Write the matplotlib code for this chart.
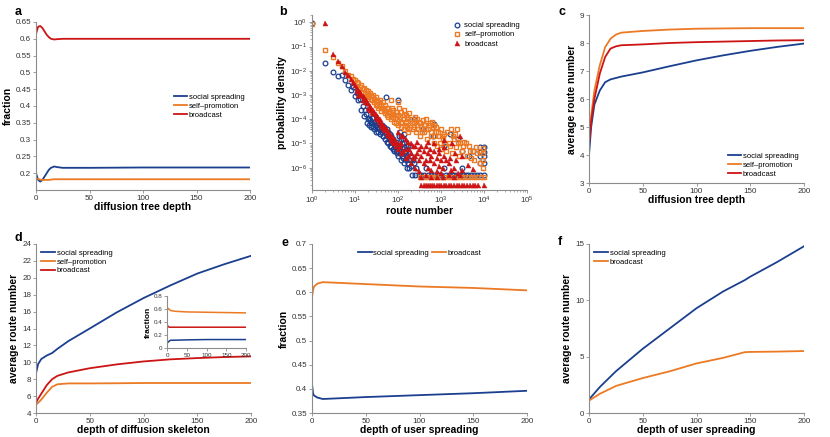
import matplotlib
matplotlib.use("Agg")
import matplotlib.pyplot as plt
import numpy as np

plt.rcParams['font.family'] = ['Liberation Sans', 'DejaVu Sans']
plt.rcParams['mathtext.default'] = 'regular'

BLUE = '#1b3f8f'
ORANGE = '#ec7a24'
RED = '#cc1414'
GREY = '#8c8c8c'

# ---- panel a: fraction vs diffusion tree depth ----
a_x = [0, 2, 4, 6, 8, 10, 12, 14, 17, 20, 25, 30, 50, 100, 150, 200]
a_social = [0.200, 0.180, 0.175, 0.180, 0.190, 0.200, 0.210, 0.216, 0.220, 0.218, 0.216, 0.216, 0.216, 0.217, 0.217, 0.217]
a_self = [0.185, 0.183, 0.181, 0.180, 0.180, 0.180, 0.180, 0.181, 0.182, 0.182, 0.182, 0.182, 0.182, 0.182, 0.182, 0.182]
a_broad = [0.615, 0.636, 0.638, 0.632, 0.622, 0.612, 0.605, 0.600, 0.598, 0.599, 0.600, 0.600, 0.600, 0.600, 0.600, 0.600]

# ---- panel b: route number distribution ----
b_social_x = [1, 2, 3, 4, 5, 6, 7, 8, 9, 10, 11, 12, 13, 14, 15, 16, 17, 18, 19, 20,
              21, 22, 23, 24, 25, 26, 27, 28, 30, 30, 32, 34, 35, 36, 38, 40, 42, 44, 45, 48,
              50, 52, 52, 55, 55, 58, 60, 60, 63, 65, 65, 68, 70, 70, 75, 75, 80, 80, 85, 90,
              90, 95, 100, 100, 100, 105, 110, 110, 115, 120, 120, 125, 130, 130, 140, 140, 150, 150, 160, 160,
              170, 180, 180, 200, 200, 210, 220, 250, 300, 350, 400, 450, 500, 600, 700, 700, 800, 900, 1000, 1150,
              1300, 1500, 1600, 1800, 2000, 2300, 2500, 2700, 3000, 3300, 3800, 4300, 5000, 5500, 6000, 7000,
              8000, 8000, 8000, 8000, 10000, 10000, 10000, 10000,
              21, 23, 29, 31, 37, 43, 46, 105, 115, 125, 135, 145, 155, 165, 190, 230, 260, 110, 140, 170,
              230, 380, 650, 1200, 3000, 4500, 8000, 10000]
b_social_y = [0.9, 0.02, 0.0085, 0.0058, 0.0068, 0.004, 0.0025, 0.0016, 0.0022, 0.0009, 0.0012, 0.0006, 0.0007, 0.00023, 0.00035, 0.00013, 0.00025, 0.00016, 7e-5, 1e-4,
              6e-5, 9e-5, 5e-5, 7e-5, 1.1e-4, 5e-5, 8e-5, 4e-5, 6e-5, 3e-5, 5e-5, 7e-5, 3e-5, 5e-5, 2.5e-5, 4e-5, 6e-5, 2e-5, 3.5e-5, 5e-5,
              1.5e-5, 8.5e-4, 2.5e-5, 4e-5, 1.2e-5, 2e-5, 3e-5, 1e-5, 1.5e-5, 2.5e-5, 8e-6, 1.2e-5, 2e-5, 7e-6, 1.5e-5, 6e-6, 1e-5, 5e-6, 8e-6, 1.2e-5,
              5e-6, 4e-6, 6e-4, 8e-6, 3e-6, 6e-6, 3e-5, 4e-6, 2e-6, 2e-5, 5e-6, 3e-6, 1.5e-5, 2.5e-6, 1e-5, 1.5e-6, 8e-6, 2e-6, 6e-6, 1e-6,
              1.5e-6, 4e-6, 1e-6, 3e-6, 1.2e-6, 5e-7, 2e-6, 5e-7, 5e-7, 5e-7, 5e-7, 1e-6, 5e-7, 5e-7, 6.3e-5, 5e-7, 5e-7, 5e-7, 5e-7, 1e-6,
              5e-7, 5e-7, 2.4e-5, 5e-7, 5e-7, 5e-7, 1.5e-5, 5e-7, 1e-6, 5e-7, 5e-7, 5e-7, 5e-7, 5e-6, 5e-7, 5e-7,
              7e-6, 3e-6, 1.5e-6, 5e-7, 7e-6, 3e-6, 1.5e-6, 5e-7,
              1.1e-4, 8e-5, 6e-5, 7e-5, 4e-5, 3e-5, 2e-5, 2e-5, 1.5e-5, 1e-5, 7e-6, 5e-6, 4e-6, 3e-6, 2e-6, 1.5e-6, 1e-6, 8e-6, 2.5e-5, 8e-6,
              1e-4, 4e-5, 2e-5, 8e-6, 5e-6, 3e-6, 4.5e-6, 4.5e-6]

b_self_x = [1, 2, 3, 4, 5, 6, 7, 8, 9, 10, 11, 12, 12, 14, 15, 16, 18, 18, 20, 20,
            22, 24, 25, 26, 28, 30, 30, 33, 35, 35, 38, 40, 40, 45, 45, 50, 50, 55, 55, 60,
            60, 65, 70, 70, 75, 80, 80, 90, 90, 100, 100, 100, 110, 120, 120, 130, 140, 140, 150, 160,
            170, 180, 190, 200, 220, 230, 250, 260, 280, 300, 320, 350, 380, 400, 420, 450, 480, 500, 550, 600,
            650, 700, 700, 750, 800, 900, 1000, 1000, 1100, 1200, 1300, 1500, 1700, 1800, 2000, 2200, 2400, 2600, 2800, 3000,
            3500, 4000, 4500, 5000, 5500, 6000, 7000, 8000, 9300, 9300,
            13, 17, 19, 21, 23, 27, 32, 37, 42, 48, 52, 58, 62, 68, 72, 78, 85, 95, 105, 115,
            125, 135, 145, 155, 165, 175, 185, 210, 240, 270, 290, 330, 360, 400, 440, 520, 580, 630, 680, 760,
            850, 950, 1050, 1250, 1400, 1600, 1900, 2100, 2500, 3200, 3800, 4800, 6500, 8000, 9300, 9300,
            320, 400, 500, 600, 700, 800, 1000, 1200, 1500, 1800, 2200, 2600, 3000, 3500, 4200, 5000, 6000, 7000, 8500, 10000]
b_self_y = [0.85, 0.075, 0.038, 0.02, 0.015, 0.01, 0.007, 0.006, 0.0045, 0.004, 0.0035, 0.003, 0.0018, 0.0025, 0.0018, 0.002, 0.0016, 0.0009, 0.0014, 0.0008,
            0.0012, 0.0009, 0.0006, 0.001, 0.0007, 0.0008, 0.0004, 0.0006, 0.0005, 0.0003, 0.0006, 0.0004, 0.00022, 0.0005, 0.0003, 0.0004, 0.00018, 0.0003, 0.00015, 0.0003,
            0.00012, 0.0002, 0.0006, 1e-4, 0.00025, 0.00015, 8e-5, 0.0002, 7e-5, 0.0005, 0.00015, 6e-5, 0.00012, 0.0002, 5e-5, 1e-4, 0.00015, 4e-5, 8e-5, 0.00012,
            3e-5, 0.00018, 6e-5, 1e-4, 4e-5, 8e-5, 0.00012, 3e-5, 6e-5, 8e-5, 2e-5, 5e-5, 9e-5, 3e-5, 6e-5, 1e-4, 1.5e-5, 4e-5, 7e-5, 2e-5,
            5e-5, 6e-5, 1e-5, 3e-5, 8e-6, 2e-5, 4e-5, 6e-6, 1.5e-5, 2.5e-5, 5e-6, 1e-5, 4e-5, 4e-6, 1.5e-5, 7e-6, 4e-5, 3e-6, 1e-5, 5e-6,
            1.2e-5, 3e-6, 8e-6, 2.5e-6, 5e-6, 2e-6, 4e-6, 1.5e-6, 6.5e-6, 2e-6,
            0.0022, 0.0012, 0.0011, 0.0009, 0.0007, 0.0005, 0.0004, 0.00035, 0.0003, 0.00025, 0.00022, 0.0002, 0.00018, 0.00015, 0.0003, 0.00012, 0.00011, 1e-4, 0.0003, 8e-5,
            7e-5, 0.00025, 6e-5, 0.00015, 5e-5, 1e-4, 4e-5, 7e-5, 5e-5, 1e-4, 4e-5, 7e-5, 3e-5, 6e-5, 4e-5, 6e-5, 3e-5, 8e-5, 2e-5, 5e-5,
            3e-5, 1e-5, 2e-5, 1e-5, 3e-5, 8e-6, 2e-5, 2.5e-5, 1.2e-5, 8e-6, 1e-5, 5e-6, 7e-6, 5e-6, 4e-6, 1e-6,
            4.3e-7, 4.3e-7, 4.3e-7, 4.3e-7, 4.3e-7, 4.3e-7, 4.3e-7, 4.3e-7, 4.3e-7, 4.3e-7, 4.3e-7, 4.3e-7, 4.3e-7, 4.3e-7, 4.3e-7, 4.3e-7, 4.3e-7, 4.3e-7, 4.3e-7, 4.3e-7]

b_broad_x = [2, 3, 4, 5, 6, 7, 8, 9, 10, 11, 12, 13, 14, 15, 16, 17, 18, 19, 20, 22,
             24, 26, 28, 30, 32, 35, 38, 40, 45, 50, 55, 60, 65, 70, 75, 80, 90, 100,
             12, 15, 20, 25, 30, 40, 50, 60, 70, 80, 100, 120, 150, 200, 250, 300,
             100, 120, 150, 200, 250, 300, 400, 500, 600, 800, 1000, 1500, 2000, 3000,
             120, 150, 200, 250, 300, 400, 500, 600, 800, 1000,
             500, 700, 900, 1150, 1200, 2100, 2750, 1800, 4300, 5500, 3000,
             11, 13, 17, 22, 26, 33, 36, 42, 47, 55, 65, 75, 90,
             110, 130, 170, 180, 220, 270, 350, 450, 550, 700, 900, 1100, 1300, 1700, 2500,
             130, 170, 220, 270, 350, 450, 550, 700, 900, 1200, 1600, 2200,
             350, 450, 600, 800, 1100, 1500, 2000, 2800,
             340, 400, 450, 500, 560, 630, 700, 800, 900, 1000, 1150, 1300, 1500, 1700, 2000, 2300, 2600, 3000, 3500, 4000,
             4700, 5500, 6300, 7100, 10000]
b_broad_y = [0.9, 0.05, 0.026, 0.016, 0.0085, 0.007, 0.0045, 0.0035, 0.0025, 0.002, 0.0016, 0.0013, 0.0011, 0.0009, 0.0008, 0.0007, 0.0006, 0.0005, 0.00045, 0.00035,
             0.0003, 0.00025, 0.0002, 0.00017, 0.00014, 0.00012, 1e-4, 8e-5, 6e-5, 5e-5, 4e-5, 3e-5, 2.5e-5, 2e-5, 1.8e-5, 1.5e-5, 1.2e-5, 1e-5,
             0.001, 0.0006, 0.0003, 0.0002, 0.00012, 6e-5, 3.5e-5, 2.2e-5, 1.4e-5, 1e-5, 6e-6, 4e-6, 2.5e-6, 1.5e-6, 1e-6, 7e-7,
             3e-5, 2e-5, 1.5e-5, 1e-5, 8e-6, 6e-6, 5e-6, 4e-6, 3e-6, 2.5e-6, 2e-6, 1.5e-6, 1e-6, 8e-7,
             1e-5, 6e-6, 4e-6, 3e-6, 2e-6, 1.5e-6, 1e-6, 8e-7, 7e-7, 6e-7,
             1.2e-5, 1e-5, 6e-6, 1.4e-5, 7e-6, 4e-6, 2e-5, 1e-5, 1.3e-6, 9e-7, 3e-6,
             0.0015, 0.001, 0.0005, 0.00025, 0.00018, 1e-4, 8e-5, 5e-5, 4e-5, 2.8e-5, 1.8e-5, 1.2e-5, 8e-6,
             8e-6, 5e-6, 3e-6, 6e-6, 2.5e-6, 4e-6, 3e-6, 2e-6, 2e-6, 1.5e-6, 1.2e-6, 1e-6, 2e-6, 8e-7, 6e-7,
             2e-5, 1.2e-5, 8e-6, 1.2e-5, 8e-6, 8e-6, 6e-6, 5e-6, 4e-6, 3e-6, 2.5e-6, 2e-6,
             4e-7, 5e-7, 4e-7, 4e-7, 4e-7, 5e-7, 4e-7, 5e-7,
             2e-7, 2e-7, 2e-7, 2e-7, 2e-7, 2e-7, 2e-7, 2e-7, 2e-7, 2e-7, 2e-7, 2e-7, 2e-7, 2e-7, 2e-7, 2e-7, 2e-7, 2e-7, 2e-7, 2e-7,
             2e-7, 2e-7, 2e-7, 2e-7, 2e-7]

# ---- panel c: average route number vs diffusion tree depth ----
c_x = [0, 2, 5, 10, 15, 20, 25, 30, 50, 75, 100, 125, 150, 175, 200]
c_social = [4.0, 5.0, 5.8, 6.3, 6.6, 6.7, 6.75, 6.8, 6.95, 7.17, 7.38, 7.56, 7.72, 7.86, 7.98]
c_self = [4.5, 5.4, 6.3, 7.2, 7.85, 8.15, 8.3, 8.37, 8.43, 8.48, 8.51, 8.52, 8.53, 8.53, 8.53]
c_broad = [4.35, 5.2, 6.0, 6.9, 7.5, 7.8, 7.88, 7.92, 7.95, 8.0, 8.03, 8.05, 8.07, 8.09, 8.1]

# ---- panel d: average route number vs depth of diffusion skeleton ----
d_x = [0, 2, 5, 10, 15, 20, 30, 50, 75, 100, 125, 150, 175, 200]
d_social = [8.7, 9.8, 10.4, 10.8, 11.1, 11.6, 12.5, 14.0, 15.9, 17.6, 19.1, 20.5, 21.6, 22.6]
d_self = [5.0, 5.2, 5.6, 6.4, 7.1, 7.4, 7.5, 7.5, 7.52, 7.55, 7.55, 7.55, 7.55, 7.55]
d_broad = [5.2, 5.7, 6.3, 7.3, 8.0, 8.4, 8.8, 9.3, 9.75, 10.1, 10.35, 10.5, 10.62, 10.7]

# inset of d: fractions
d_in_x = [0, 3, 6, 10, 20, 50, 100, 150, 200]
d_in_social = [0.08, 0.09, 0.11, 0.12, 0.12, 0.125, 0.13, 0.13, 0.13]
d_in_self = [0.58, 0.61, 0.59, 0.575, 0.565, 0.555, 0.55, 0.545, 0.54]
d_in_broad = [0.36, 0.33, 0.32, 0.32, 0.32, 0.32, 0.32, 0.32, 0.32]

# ---- panel e: fraction vs depth of user spreading ----
e_x = [0, 1, 2, 5, 10, 20, 50, 100, 150, 200]
e_social = [0.41, 0.39, 0.386, 0.382, 0.379, 0.38, 0.383, 0.387, 0.391, 0.396]
e_broad = [0.59, 0.605, 0.612, 0.618, 0.621, 0.62, 0.617, 0.612, 0.609, 0.604]

# ---- panel f: average route number vs depth of user spreading ----
f_x = [0, 10, 25, 50, 75, 100, 125, 145, 150, 175, 200]
f_social = [1.2, 2.3, 3.7, 5.7, 7.5, 9.3, 10.8, 11.8, 12.1, 13.4, 14.8]
f_broad = [1.1, 1.7, 2.4, 3.1, 3.7, 4.4, 4.9, 5.4, 5.42, 5.45, 5.5]

W, H = 830, 437


def add_axes(fig, x0, y0, x1, y1):
    # pixel box -> figure fraction
    return fig.add_axes([x0 / W, 1 - y1 / H, (x1 - x0) / W, (y1 - y0) / H])


def style(ax, tsize=5.8):
    for s in ['top', 'right']:
        ax.spines[s].set_visible(False)
    for s in ['left', 'bottom']:
        ax.spines[s].set_color(GREY)
        ax.spines[s].set_linewidth(0.8)
    ax.tick_params(direction='out', length=2, width=0.6, color=GREY,
                   labelsize=tsize, labelcolor='#333333', pad=1.5)
    ax.tick_params(which='minor', direction='out', length=1.2, width=0.5, color=GREY)


def ticks(ax, yt):
    ax.set_xlim(0, 200)
    ax.set_xticks([0, 50, 100, 150, 200])
    ax.set_yticks(yt)
    ax.set_yticklabels(['%g' % v for v in yt])


def label(ax, xl, yl):
    ax.set_xlabel(xl, fontsize=7.5, fontweight='bold', labelpad=0)
    ax.set_ylabel(yl, fontsize=7.5, fontweight='bold', labelpad=2)


def legend(ax, **kw):
    leg = ax.legend(frameon=False, fontsize=5.5, handlelength=1.8, handletextpad=0.2,
                    labelspacing=0.2, borderaxespad=0.3, **kw)
    return leg


fig = plt.figure(figsize=(8.3, 4.37), dpi=100)
lw = 1.3

# a
ax = add_axes(fig, 36, 22, 250, 190)
ax.plot(a_x, a_social, color=BLUE, lw=lw, label='social spreading')
ax.plot(a_x, a_self, color=ORANGE, lw=lw, label='self\u2013promotion')
ax.plot(a_x, a_broad, color=RED, lw=lw, label='broadcast')
ax.set_ylim(0.15, 0.65)
ticks(ax, [0.2, 0.25, 0.3, 0.35, 0.4, 0.45, 0.5, 0.55, 0.6, 0.65])
style(ax)
label(ax, 'diffusion tree depth', 'fraction')
legend(ax, loc='center right', bbox_to_anchor=(1.0, 0.5))

# b
ax = add_axes(fig, 312, 15, 527, 190)
ax.plot(b_social_x, b_social_y, 'o', ms=3.4, mfc='none', mec=BLUE, mew=0.9, label='social spreading')
ax.plot(b_self_x, b_self_y, 's', ms=3.0, mfc='none', mec=ORANGE, mew=1.0, label='self\u2013promotion')
ax.plot(b_broad_x, b_broad_y, '^', ms=3.6, mfc=RED, mec=RED, mew=0.3, label='broadcast')
ax.set_xscale('log')
ax.set_yscale('log')
ax.set_xlim(1, 1e5)
ax.set_ylim(1.2e-7, 2)
ax.set_yticks([1e0, 1e-1, 1e-2, 1e-3, 1e-4, 1e-5, 1e-6])
style(ax)
label(ax, 'route number', 'probability density')
ax.legend(frameon=False, fontsize=5.5, handlelength=1.2, handletextpad=0.4,
          labelspacing=0.25, loc='upper right', bbox_to_anchor=(1.0, 1.0))

# c
ax = add_axes(fig, 589, 15, 804, 183)
ax.plot(c_x, c_social, color=BLUE, lw=lw, label='social spreading')
ax.plot(c_x, c_self, color=ORANGE, lw=lw, label='self\u2013promotion')
ax.plot(c_x, c_broad, color=RED, lw=lw, label='broadcast')
ax.set_ylim(3, 9)
ticks(ax, [3, 4, 5, 6, 7, 8, 9])
style(ax)
label(ax, 'diffusion tree depth', 'average route number')
legend(ax, loc='lower right')

# d
ax = add_axes(fig, 36, 244, 251, 413)
ax.plot(d_x, d_social, color=BLUE, lw=lw, label='social spreading')
ax.plot(d_x, d_self, color=ORANGE, lw=lw, label='self\u2013promotion')
ax.plot(d_x, d_broad, color=RED, lw=lw, label='broadcast')
ax.set_ylim(4, 24)
ticks(ax, list(range(4, 25, 2)))
style(ax)
label(ax, 'depth of diffusion skeleton', 'average route number')
legend(ax, loc='upper left', bbox_to_anchor=(0.0, 1.0))

# inset
ax = add_axes(fig, 167, 296, 246, 348)
ax.plot(d_in_x, d_in_social, color=BLUE, lw=1.1)
ax.plot(d_in_x, d_in_self, color=ORANGE, lw=1.1)
ax.plot(d_in_x, d_in_broad, color=RED, lw=1.1)
ax.set_ylim(0, 0.8)
ticks(ax, [0, 0.2, 0.4, 0.6, 0.8])
style(ax, tsize=4.5)
ax.set_ylabel('fraction', fontsize=6, fontweight='bold', labelpad=1)

# e
ax = add_axes(fig, 312, 244, 527, 413)
ax.plot(e_x, e_social, color=BLUE, lw=lw, label='social spreading')
ax.plot(e_x, e_broad, color=ORANGE, lw=lw, label='broadcast')
ax.set_ylim(0.35, 0.7)
ticks(ax, [0.35, 0.4, 0.45, 0.5, 0.55, 0.6, 0.65, 0.7])
style(ax)
label(ax, 'depth of user spreading', 'fraction')
legend(ax, loc='upper center', ncol=2, columnspacing=0.4)

# f
ax = add_axes(fig, 589, 244, 804, 413)
ax.plot(f_x, f_social, color=BLUE, lw=lw, label='social spreading')
ax.plot(f_x, f_broad, color=ORANGE, lw=lw, label='broadcast')
ax.set_ylim(0, 15)
ticks(ax, [0, 5, 10, 15])
style(ax)
label(ax, 'depth of user spreading', 'average route number')
legend(ax, loc='upper left', bbox_to_anchor=(0.0, 1.0))

# panel letters
for ch, px, py in [('a', 18, 12), ('b', 283, 12), ('c', 562, 12),
                   ('d', 18, 238), ('e', 285, 243), ('f', 560, 242)]:
    fig.text(px / W, 1 - py / H, ch, fontsize=9, fontweight='bold', va='center', ha='center')

fig.savefig('out.png', dpi=100)
